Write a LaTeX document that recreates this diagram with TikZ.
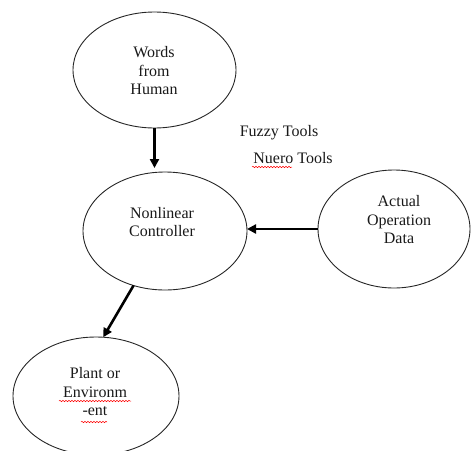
\documentclass[tikz,border=0pt]{standalone}
\usepackage{fontspec}
\setmainfont{Liberation Serif}
\usetikzlibrary{arrows.meta,shapes.geometric,decorations.pathmorphing}
\begin{document}
\begin{tikzpicture}[x=1pt,y=-1pt,
  oval/.style={ellipse,draw=black!85,line width=0.9pt,inner sep=0pt,outer sep=0pt},
  txt/.style={align=center,font=\fontsize{16}{18.5}\selectfont,text=black!90,inner sep=0pt},
  flow/.style={line width=2.6pt,-{Triangle[length=9pt,width=9pt]}},
  squig/.style={red,line width=0.5pt,decorate,decoration={snake,amplitude=0.7pt,segment length=3pt}}]
\clip (0,0) rectangle (471,450);
% ellipses
\node[oval,minimum width=163pt,minimum height=116pt] (words) at (154.5,70) {};
\node[oval,minimum width=164pt,minimum height=118pt] (ctrl) at (165,231) {};
\node[oval,minimum width=152pt,minimum height=118pt] (actual) at (394,229) {};
\node[oval,minimum width=166pt,minimum height=118pt] (plant) at (96,396) {};
% labels
\node[txt] (wordst) at (154,71) {Words\\from\\Human};
\node[txt] (ctrlt) at (162,222) {Nonlinear\\Controller};
\node[txt] (actualt) at (399,220) {Actual\\Operation\\Data};
\node[txt] (plantt) at (95,392) {Plant or\\Environm\\-ent};
\node[txt] (fuzzy) at (279,133) {Fuzzy Tools};
\node[txt] (nuero) at (293,158) {Nuero Tools};
% connectors
\draw[flow,shorten >=4pt] (words.south) -- (words.south |- ctrl.north);
\draw[flow] (actual.west) -- (actual.west -| ctrl.east);
\draw[flow] (ctrl.240) -- (plant.83);
% spell-check squiggles
\draw[squig] (252,167) -- (292,167);
\draw[squig] (59,401) -- (131,401);
\draw[squig] (81,422) -- (107,422);
\end{tikzpicture}
\end{document}
